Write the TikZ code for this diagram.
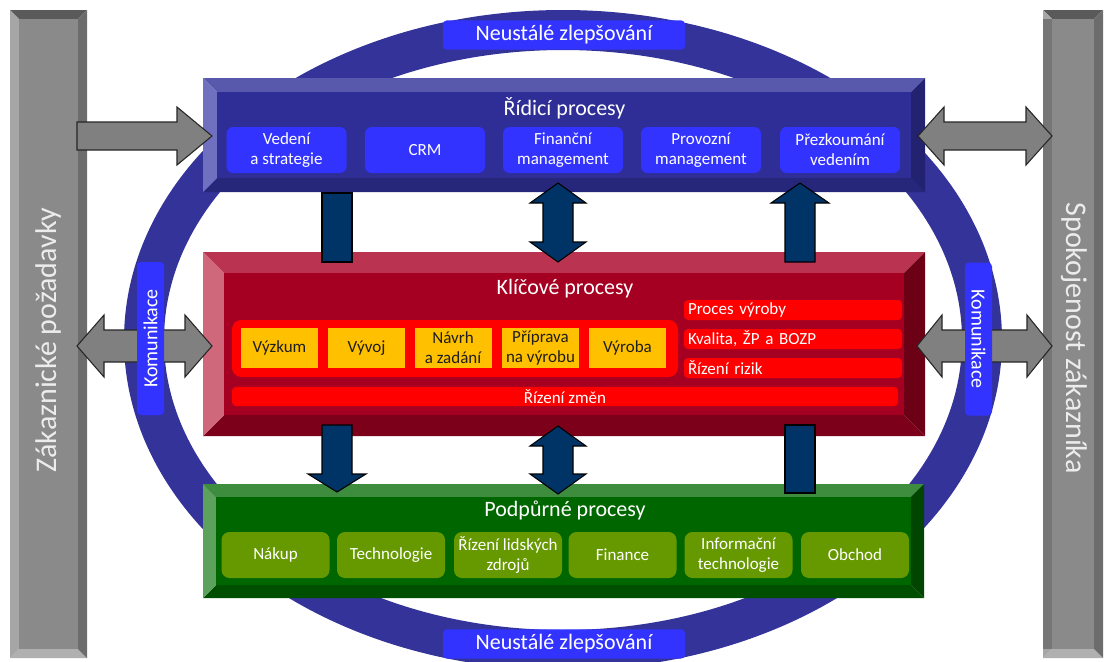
\documentclass[tikz,border=0pt]{standalone}
\usepackage{fontspec}
\setmainfont{Carlito}
\usetikzlibrary{calc,fit}

% palette
\definecolor{ringCol}{RGB}{51,51,153}
\definecolor{ringLab}{RGB}{51,51,255}
\definecolor{rpFace}{RGB}{46,46,150}
\definecolor{rpTop}{RGB}{88,88,172}
\definecolor{rpLeft}{RGB}{112,112,192}
\definecolor{rpRight}{RGB}{34,34,112}
\definecolor{rpBottom}{RGB}{38,38,122}
\definecolor{rpItem}{RGB}{51,51,255}
\definecolor{kpFace}{RGB}{165,0,33}
\definecolor{kpTop}{RGB}{186,52,82}
\definecolor{kpLeft}{RGB}{206,104,122}
\definecolor{kpRight}{RGB}{108,0,20}
\definecolor{kpBottom}{RGB}{124,0,26}
\definecolor{kpRed}{RGB}{255,0,0}
\definecolor{kpYellow}{RGB}{255,192,0}
\definecolor{ppFace}{RGB}{0,102,0}
\definecolor{ppTop}{RGB}{62,140,62}
\definecolor{ppLeft}{RGB}{92,162,92}
\definecolor{ppRight}{RGB}{0,70,0}
\definecolor{ppBottom}{RGB}{0,78,0}
\definecolor{ppItem}{RGB}{102,153,0}
\definecolor{gbFace}{RGB}{138,138,138}
\definecolor{gbTop}{RGB}{90,90,90}
\definecolor{gbLeft}{RGB}{166,166,166}
\definecolor{gbRight}{RGB}{108,108,108}
\definecolor{gbBottom}{RGB}{176,176,176}
\definecolor{grBar}{RGB}{118,118,118}
\definecolor{gbText}{RGB}{236,236,236}
\definecolor{arrGray}{RGB}{128,128,128}
\definecolor{arrLine}{RGB}{38,38,38}
\definecolor{navy}{RGB}{0,51,102}
\definecolor{darkText}{RGB}{30,30,30}

\newcommand\fTitle{\fontsize{16.5}{19}\selectfont}
\newcommand\fItem{\fontsize{12.75}{15}\selectfont}
\newcommand\fRing{\fontsize{16.5}{19}\selectfont}
\newcommand\fKom{\fontsize{15}{18}\selectfont}
\newcommand\fBar{\fontsize{22.5}{26}\selectfont}

% a panel with four bevelled edges, named #1
\newcommand\bevelpanel[7]{%
  \fill[#7Top] (#2,#3) -- (#4,#3) -- ({#4-#6},{#3+#6}) -- ({#2+#6},{#3+#6}) -- cycle;
  \fill[#7Bottom] (#2,#5) -- (#4,#5) -- ({#4-#6},{#5-#6}) -- ({#2+#6},{#5-#6}) -- cycle;
  \fill[#7Left] (#2,#3) -- ({#2+#6},{#3+#6}) -- ({#2+#6},{#5-#6}) -- (#2,#5) -- cycle;
  \fill[#7Right] (#4,#3) -- ({#4-#6},{#3+#6}) -- ({#4-#6},{#5-#6}) -- (#4,#5) -- cycle;
  \fill[#7Face] ({#2+#6},{#3+#6}) rectangle ({#4-#6},{#5-#6});
  \node[fit={(#2,#3) (#4,#5)}, inner sep=0pt] (#1) {};
}

% block arrows: #1 style, #2/#3 end points, #4 shaft half width, #5 head half width, #6 head length
\newcommand\rightblock[6]{%
  \filldraw[#1] ($(#2)+(0,-#4)$) -- ($(#3)+(-#6,-#4)$) -- ($(#3)+(-#6,-#5)$) -- (#3)
    -- ($(#3)+(-#6,#5)$) -- ($(#3)+(-#6,#4)$) -- ($(#2)+(0,#4)$) -- cycle;}
\newcommand\hdoubleblock[6]{%
  \filldraw[#1] (#2) -- ($(#2)+(#6,-#5)$) -- ($(#2)+(#6,-#4)$) -- ($(#3)+(-#6,-#4)$)
    -- ($(#3)+(-#6,-#5)$) -- (#3) -- ($(#3)+(-#6,#5)$) -- ($(#3)+(-#6,#4)$)
    -- ($(#2)+(#6,#4)$) -- ($(#2)+(#6,#5)$) -- cycle;}
\newcommand\vdoubleblock[6]{%
  \filldraw[#1] (#2) -- ($(#2)+(#5,#6)$) -- ($(#2)+(#4,#6)$) -- ($(#3)+(#4,-#6)$)
    -- ($(#3)+(#5,-#6)$) -- (#3) -- ($(#3)+(-#5,-#6)$) -- ($(#3)+(-#4,-#6)$)
    -- ($(#2)+(-#4,#6)$) -- ($(#2)+(-#5,#6)$) -- cycle;}
\newcommand\downblock[6]{%
  \filldraw[#1] ($(#2)+(-#4,0)$) -- ($(#2)+(#4,0)$) -- ($(#3)+(#4,-#6)$) -- ($(#3)+(#5,-#6)$)
    -- (#3) -- ($(#3)+(-#5,-#6)$) -- ($(#3)+(-#4,-#6)$) -- cycle;}
\newcommand\upblock[6]{%
  \filldraw[#1] ($(#2)+(-#4,0)$) -- ($(#2)+(#4,0)$) -- ($(#3)+(#4,#6)$) -- ($(#3)+(#5,#6)$)
    -- (#3) -- ($(#3)+(-#5,#6)$) -- ($(#3)+(-#4,#6)$) -- cycle;}
\newcommand\barblock[4]{%
  \filldraw[#1] ($(#2)+(-#4,0)$) rectangle ($(#3)+(#4,0)$);}

\begin{document}
\begin{tikzpicture}[x=0.75pt, y=-0.75pt,
  every node/.style={inner sep=0pt, outer sep=0pt},
  ringlabel/.style={fill=ringLab, rounded corners=3pt, text=white, font=\fRing,
    minimum width=181.5pt, minimum height=22pt},
  komlabel/.style={fill=ringLab, rounded corners=3pt, text=white, font=\fKom,
    minimum width=114.75pt, minimum height=20.25pt},
  bartext/.style={text=gbText, font=\fBar},
  ttl/.style={text=white, font=\fTitle},
  topitem/.style={fill=rpItem, rounded corners=5pt, text=white, font=\fItem, align=center,
    minimum width=90pt, minimum height=34.5pt},
  yelitem/.style={fill=kpYellow, text=darkText, font=\fItem, align=center,
    minimum width=57.75pt, minimum height=30pt},
  redbar/.style={fill=kpRed, rounded corners=3pt, text=white, font=\fItem},
  greenitem/.style={fill=ppItem, rounded corners=6pt, text=white, font=\fItem, align=center,
    minimum width=81pt, minimum height=34.5pt},
  grayarrow/.style={fill=arrGray, draw=arrLine, line width=0.8pt, line join=miter},
  navyarrow/.style={fill=navy, draw=black, line width=0.8pt, line join=miter}
]
\useasboundingbox (0,0) rectangle (1112,661);

% improvement cycle
\draw[ringCol, line width=30pt] (563,340) ellipse [x radius=314.25pt, y radius=232.5pt];
\node[ringlabel] (nz-top) at (564,35) {Neustálé zlepšování};
\node[ringlabel] (nz-bot) at (564,644) {Neustálé zlepšování};

% customer side bars
\bevelpanel{lbar}{10}{10}{87}{658}{9}{gb}
\bevelpanel{rbar}{1043}{10}{1103}{658}{9}{gb}
\fill[grBar] (1043,19) rectangle (1052,649);
\node[bartext, rotate=90] (ltext) at (49,340) {Zákaznické požadavky};
\node[bartext, rotate=-90] (rtext) at (1074,338) {Spokojenost zákazníka};

% management processes
\bevelpanel{ridici}{203}{78}{925}{192}{14}{rp}
\node[ttl] (ridici-t) at (564.5,108) {Řídicí procesy};
\node[topitem] (r1) at (286.5,150) {Vedení\\a strategie};
\node[topitem] (r2) at (425,150) {CRM};
\node[topitem] (r3) at (563,150) {Finanční\\management};
\node[topitem] (r4) at (701,150) {Provozní\\management};
\node[topitem] (r5) at (840,150) {Přezkoumání\\vedením};

% key processes
\bevelpanel{klic}{203}{252}{925}{436}{21}{kp}
\node[ttl] (klic-t) at (565,289) {Klíčové procesy};
\node[fill=kpRed, rounded corners=7pt, minimum width=334.5pt, minimum height=42.75pt]
  (chain) at (455,348.5) {};
\node[yelitem] (k1) at (279.5,348) {Výzkum};
\node[yelitem] (k2) at (366.5,348) {Vývoj};
\node[yelitem] (k3) at (453,348) {Návrh\\a zadání};
\node[yelitem] (k4) at (540.5,348) {Příprava\\na výrobu};
\node[yelitem] (k5) at (627.5,348) {Výroba};
\node[redbar, minimum width=163.5pt, minimum height=15pt, text width=157.5pt, align=left,
  inner xsep=3pt] (k6) at (793,310) {Proces výroby};
\node[redbar, minimum width=163.5pt, minimum height=15pt, text width=157.5pt, align=left,
  inner xsep=3pt] (k7) at (793,339) {Kvalita, ŽP a BOZP};
\node[redbar, minimum width=163.5pt, minimum height=15pt, text width=157.5pt, align=left,
  inner xsep=3pt] (k8) at (793,368) {Řízení rizik};
\node[redbar, minimum width=499.5pt, minimum height=14.5pt] (k9) at (565,396.5) {Řízení změn};

% support processes
\bevelpanel{podp}{203}{484}{924}{598}{13}{pp}
\node[ttl] (podp-t) at (565,510) {Podpůrné procesy};
\node[greenitem] (p1) at (275.5,555) {Nákup};
\node[greenitem] (p2) at (391,555) {Technologie};
\node[greenitem] (p3) at (508,555) {Řízení lidských\\zdrojů};
\node[greenitem] (p4) at (622.5,555) {Finance};
\node[greenitem] (p5) at (738.5,555) {Informační\\technologie};
\node[greenitem] (p6) at (855,555) {Obchod};

% customer links
\coordinate (g1a) at ($(lbar.east |- ridici.west)+(-10,1)$);
\coordinate (g1b) at ($(ridici.west)+(9,1)$);
\rightblock{grayarrow}{g1a}{g1b}{14}{29}{35}
\coordinate (g2a) at ($(ridici.east)+(-7,1)$);
\coordinate (g2b) at ($(rbar.west |- ridici.east)+(9,1)$);
\hdoubleblock{grayarrow}{g2a}{g2b}{14}{29}{26}
\coordinate (g3a) at ($(lbar.east |- klic.west)+(-10,2)$);
\coordinate (g3b) at ($(klic.west)+(9,2)$);
\hdoubleblock{grayarrow}{g3a}{g3b}{16}{31}{27}
\coordinate (g4a) at ($(klic.east)+(-8,2)$);
\coordinate (g4b) at ($(rbar.west |- klic.east)+(9,2)$);
\hdoubleblock{grayarrow}{g4a}{g4b}{16}{31}{25}

% communication labels
\node[komlabel, rotate=90] (kom-l) at (150.5,338.5) {Komunikace};
\node[komlabel, rotate=-90] (kom-r) at (978.5,339) {Komunikace};

% links between process levels
\coordinate (colA) at (337,0);
\coordinate (colB) at (558,0);
\coordinate (colC) at (800,0);
\barblock{navyarrow}{$(ridici.south -| colA)+(0,1)$}{$(klic.north -| colA)+(0,10)$}{15}
\vdoubleblock{navyarrow}{$(ridici.south -| colB)+(0,-9)$}{$(klic.north -| colB)+(0,10)$}{15}{28}{20}
\upblock{navyarrow}{$(klic.north -| colC)+(0,10)$}{$(ridici.south -| colC)+(0,-9)$}{15}{29}{20}
\downblock{navyarrow}{$(klic.south -| colA)+(0,-11)$}{$(podp.north -| colA)+(0,8)$}{15}{29}{18}
\vdoubleblock{navyarrow}{$(klic.south -| colB)+(0,-10)$}{$(podp.north -| colB)+(0,10)$}{15}{28}{20}
\barblock{navyarrow}{$(klic.south -| colC)+(0,-11)$}{$(podp.north -| colC)+(0,9)$}{15}
\end{tikzpicture}
\end{document}
